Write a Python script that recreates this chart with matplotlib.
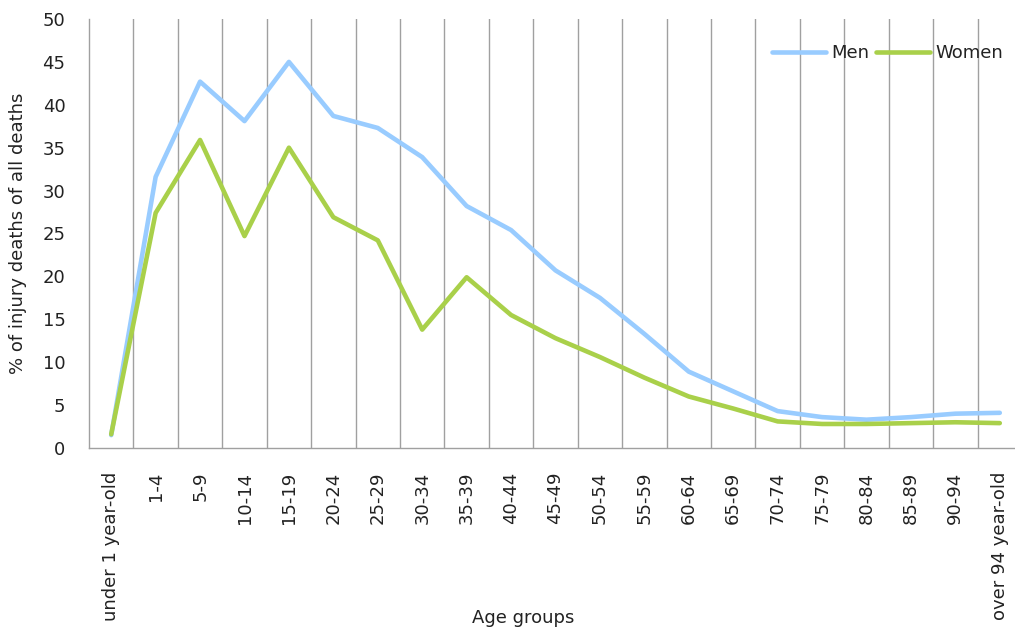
import numpy as np
import matplotlib.pyplot as plt

plt.rcParams['font.family'] = ['DejaVu Sans']

# age groups and share of injury deaths (%)
age_groups = ['under 1 year-old', '1-4', '5-9', '10-14', '15-19', '20-24', '25-29',
              '30-34', '35-39', '40-44', '45-49', '50-54', '55-59', '60-64',
              '65-69', '70-74', '75-79', '80-84', '85-89', '90-94', 'over 94 year-old']
men = [1.5, 31.6, 42.7, 38.1, 45.0, 38.7, 37.3, 33.9, 28.2, 25.4, 20.7, 17.5,
       13.3, 8.9, 6.6, 4.3, 3.6, 3.3, 3.6, 4.0, 4.1]
women = [1.6, 27.4, 35.9, 24.7, 35.0, 26.9, 24.2, 13.8, 19.9, 15.5, 12.8, 10.6,
         8.2, 6.0, 4.6, 3.1, 2.8, 2.8, 2.9, 3.0, 2.9]

fig = plt.figure(figsize=(10.15, 6.27), dpi=100)
ax = fig.add_axes([89/1015, 179/627, 933/1015, 429/627])

x = np.arange(len(age_groups))
ax.plot(x, men, color='#99ccff', lw=3.3, label='Men', solid_capstyle='round')
ax.plot(x, women, color='#a9d04a', lw=3.3, label='Women', solid_capstyle='round')

ax.set_xlim(-0.5, len(age_groups) - 0.5)
ax.set_ylim(0, 50)
ax.set_yticks(np.arange(0, 51, 5))
ax.set_xticks(x)
ax.set_xticklabels(age_groups, rotation=90)
# vertical lines between the age groups
ax.set_xticks(x[:-1] + 0.5, minor=True)
ax.grid(True, which='minor', axis='x', color='#a0a0a0', lw=1)
ax.tick_params(which='both', length=0, labelsize=13, colors='#222222')
ax.tick_params(axis='y', pad=17)
ax.tick_params(axis='x', pad=17)

for s in ['top', 'right']:
    ax.spines[s].set_visible(False)
for s in ['left', 'bottom']:
    ax.spines[s].set_color('#a0a0a0')
    ax.spines[s].set_linewidth(1)

ax.set_ylabel('% of injury deaths of all deaths', fontsize=13, color='#222222',
              va='center')
ax.yaxis.set_label_coords(-0.076, 0.5)
ax.set_xlabel('Age groups', fontsize=13, color='#222222', va='center')
ax.xaxis.set_label_coords(0.465, -0.396)

ax.legend(loc='center left', bbox_to_anchor=(772/1015, 1 - 53/627),
          bbox_transform=fig.transFigure, ncol=2, frameon=False,
          fontsize=13, handlelength=3, handletextpad=0.3, columnspacing=0.35,
          borderpad=0, borderaxespad=0, labelcolor='#222222')

fig.savefig('out.png', dpi=100)
